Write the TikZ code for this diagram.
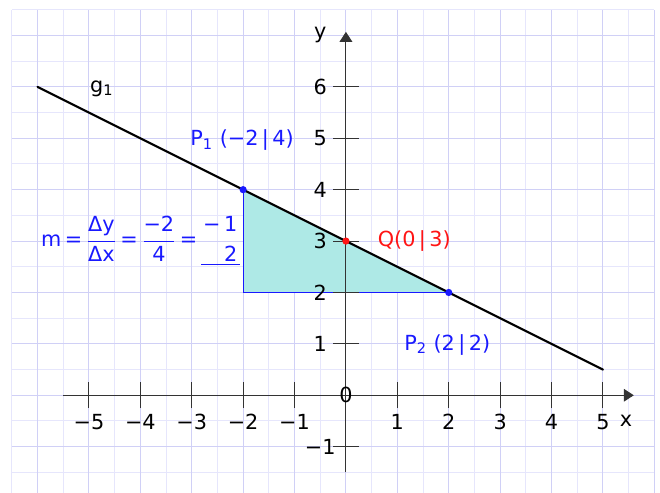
\documentclass[tikz,border=0pt]{standalone}
\usepackage{fontspec}
\setmainfont{DejaVu Sans}
\usepackage{amsmath}
\usepackage{xcolor}
\usepackage{tikz}
\usetikzlibrary{arrows.meta,positioning,calc}
\definecolor{gridmajor}{RGB}{208,208,246}
\definecolor{gridminor}{RGB}{230,230,252}
\definecolor{slopefill}{RGB}{174,233,230}
\definecolor{ptblue}{RGB}{25,25,255}
\definecolor{ptred}{RGB}{255,20,20}
\tikzset{
    coordaxis/.style={
        draw=black!80,
        line width=0.6pt,
        -{Triangle[length=5.5pt,width=7pt]}
    },
    axistick/.style={draw=black!80, line width=0.6pt},
    numlbl/.style={
        inner sep=0pt,
        font=\fontsize{11.5}{14}\selectfont % same size for all labels
    },
    bluelbl/.style={numlbl, text=ptblue},
    gline/.style={draw=black, line width=1.2pt, line cap=round},
    dot/.style={circle, fill, inner sep=0pt, minimum size=4pt}
}

\begin{document}
\begin{tikzpicture}[x=1cm, y=1cm]
    \useasboundingbox (-6.73,-1.9) rectangle (6.11,7.69);
    % squared paper
    \draw[gridminor, line width=0.55pt, step=0.5] (-6.5,-1.9) grid (6,7.5);
    \draw[gridmajor, line width=0.6pt, step=1] (-6.5,-1.9) grid (6,7.5);

    \coordinate (P1) at (-2,4);
    \coordinate (P2) at (2,2);
    \coordinate (corner) at (-2,2);
    \coordinate (Q) at (0,3);
    \coordinate (gstart) at (-6,6);
    \coordinate (gend) at (5,0.5);
    \coordinate (xstart) at (-5.5,0);
    \coordinate (xend) at (5.6,0);
    \coordinate (ystart) at (0,-1.5);
    \coordinate (yend) at (0,7.07);

    % slope triangle
    \fill[slopefill] (P1) -- (corner) -- (P2) -- cycle;
    \draw[ptblue, line width=0.6pt] (P1) -- (corner) -- (P2);

    \draw[coordaxis] (xstart) -- (xend);
    \draw[coordaxis] (ystart) -- (yend);
    \foreach \i/\t in {-5/−5,-4/−4,-3/−3,-2/−2,-1/−1,1/1,2/2,3/3,4/4,5/5} {
        \draw[axistick] (\i,-0.25) -- (\i,0.25);
        \node[numlbl] (xl\i) at (\i,-0.52) {\t};
    }
    \foreach \i/\t in {-1/−1,1/1,2/2,3/3,4/4,5/5,6/6} {
        \draw[axistick] (-0.25,\i) -- (0.25,\i);
        \node[numlbl] (yl\i) at (-0.5,\i) {\t};
    }
    \node[numlbl] (origin) at (0,0) {0};
    \node[numlbl] (xname) at (5.45,-0.5) {x};
    \node[numlbl] (yname) at (-0.5,7.0) {y};

    \draw[gline] (gstart) -- (gend);
    \node[numlbl] (gname) at (-4.75,5.97) {g\textsubscript{1}};

    \node[dot, ptblue] (p1dot) at (P1) {};
    \node[dot, ptblue] (p2dot) at (P2) {};
    \node[dot, ptred] (qdot) at (Q) {};

    \node[bluelbl] (p1lbl) at (-2.02,4.96) {P\textsubscript{1} (−2\,|\,4)};
    \node[bluelbl] (p2lbl) at (1.97,0.98) {P\textsubscript{2} (2\,|\,2)};
    \node[numlbl, text=ptred] (qlbl) at (1.33,3.0) {Q(0\,|\,3)};
    \node[bluelbl] (slope) at (-4.0,3.0) {\thickmuskip=3mu
        $\text{m} \mathrel{\text{=}}
        \dfrac{\text{Δy}}{\text{Δx}} \mathrel{\text{=}}
        \dfrac{\text{−2}}{\text{4}} \mathrel{\text{=}}
        \underline{\genfrac{}{}{0pt}{0}{\text{−\,1}}{\phantom{\text{−}}\,\text{2}}}$};
\end{tikzpicture}
\end{document}
